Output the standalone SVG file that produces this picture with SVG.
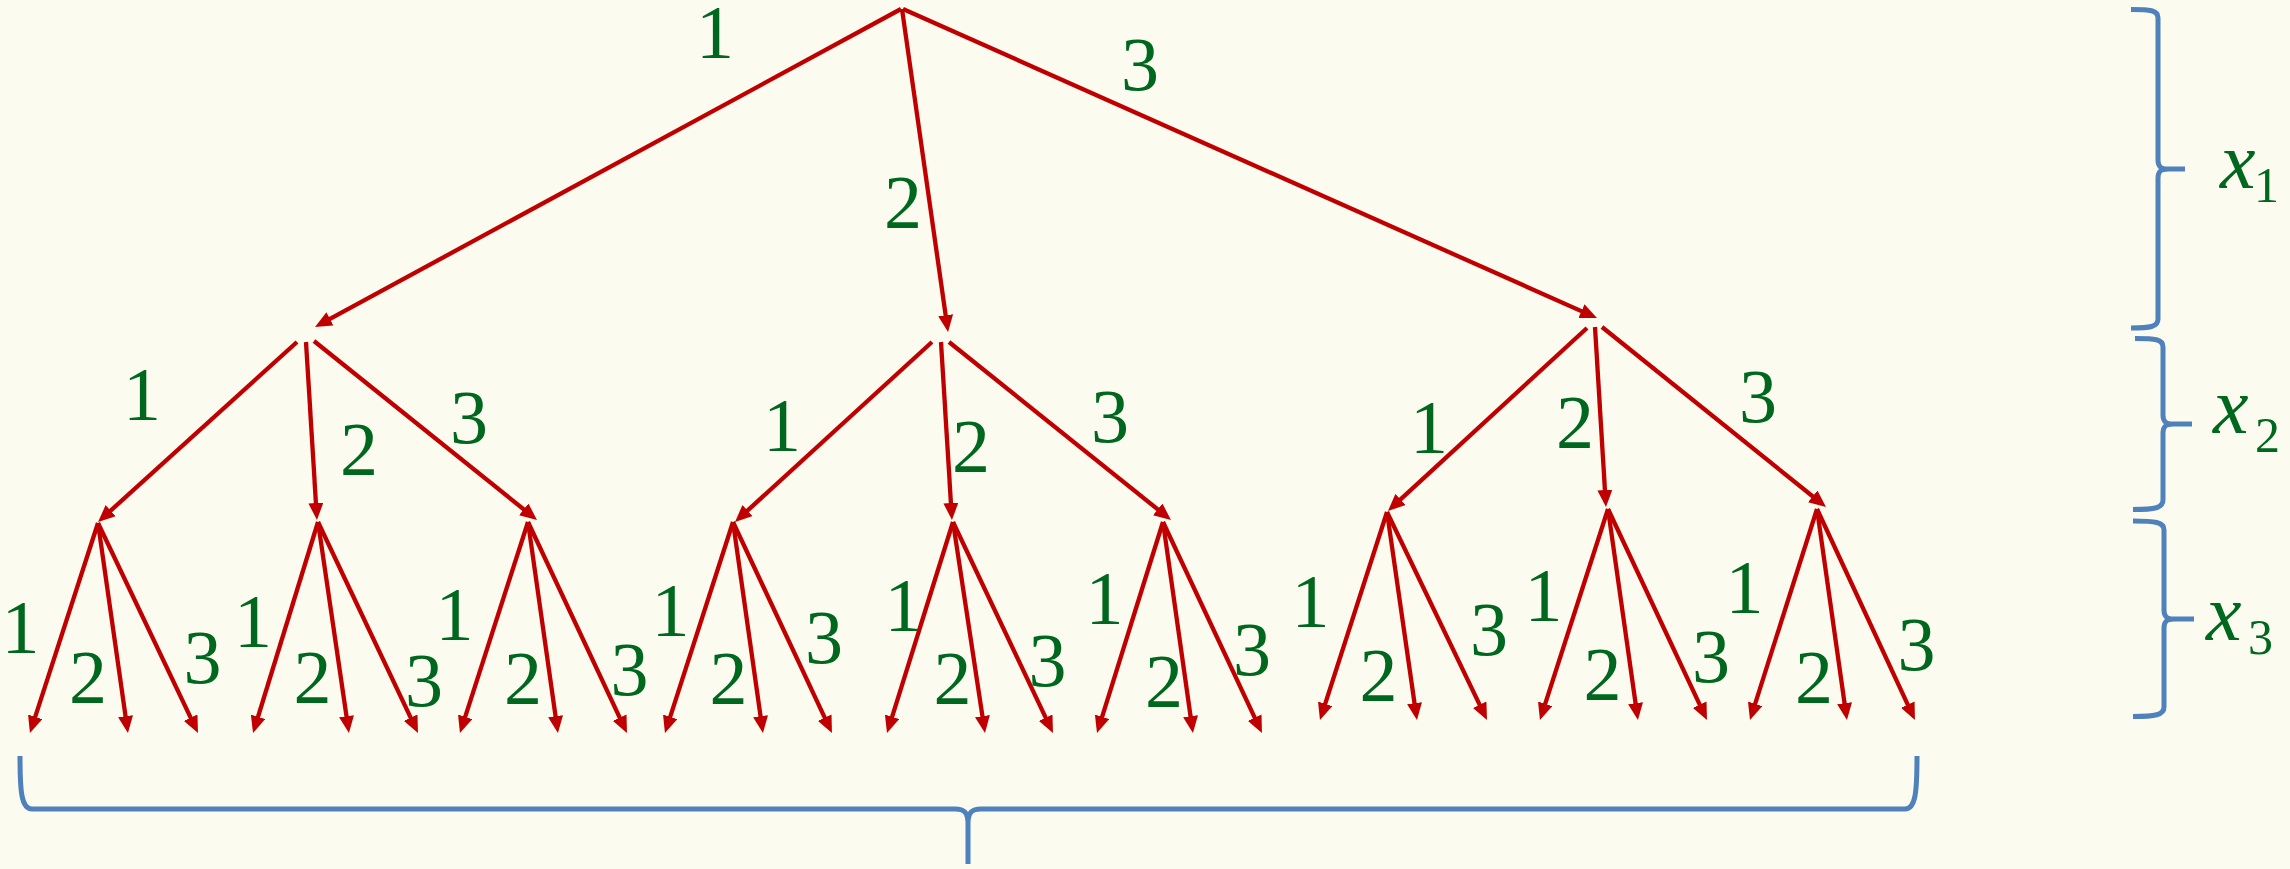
<svg xmlns="http://www.w3.org/2000/svg" width="2290" height="869" viewBox="0 0 2290 869">
<style>
.e{stroke:#C00000;stroke-width:4.3;fill:none;marker-end:url(#ah)}
.t{font-family:"Liberation Serif","DejaVu Serif",serif;font-size:76px;fill:#00681E;text-anchor:middle}
.b{stroke:#4F81BD;stroke-width:5;fill:none;stroke-linecap:butt}
.m{font-family:"Liberation Serif","DejaVu Serif",serif;font-style:italic;font-size:80px;fill:#00681E}
.s{font-family:"Liberation Serif","DejaVu Serif",serif;font-size:50px;fill:#00681E}
</style>
<defs>
<marker id="ah" markerUnits="userSpaceOnUse" markerWidth="17" markerHeight="15" refX="11" refY="7.5" orient="auto" viewBox="0 0 17 15">
<path d="M0,0 L17,7.5 L0,15 Z" fill="#C00000"/>
</marker>
</defs>
<rect width="2290" height="869" fill="#FBFBEF"/>
<g id="connectors">
<line class="e" x1="901" y1="9" x2="320.3" y2="324.1"/>
<line class="e" x1="902" y1="9" x2="947.2" y2="326.1"/>
<line class="e" x1="903" y1="9" x2="1591.5" y2="315.6"/>
<line class="e" x1="297" y1="342" x2="102.5" y2="518"/>
<line class="e" x1="306" y1="342" x2="316.6" y2="514"/>
<line class="e" x1="314" y1="341" x2="532.3" y2="516.2"/>
<line class="e" x1="932" y1="342" x2="739.4" y2="518"/>
<line class="e" x1="941" y1="342" x2="951.6" y2="514"/>
<line class="e" x1="949" y1="342" x2="1166.3" y2="516.2"/>
<line class="e" x1="1587" y1="328" x2="1392.4" y2="506.9"/>
<line class="e" x1="1595" y1="327" x2="1605.6" y2="501"/>
<line class="e" x1="1602" y1="327" x2="1821.3" y2="503.2"/>
<line class="e" x1="98" y1="523" x2="31.8" y2="727.3"/>
<line class="e" x1="98" y1="523" x2="127.1" y2="727.1"/>
<line class="e" x1="98" y1="523" x2="195.4" y2="727.6"/>
<line class="e" x1="318" y1="522" x2="254.8" y2="727.3"/>
<line class="e" x1="318" y1="522" x2="348.1" y2="727.1"/>
<line class="e" x1="318" y1="522" x2="415.4" y2="727.6"/>
<line class="e" x1="528" y1="522" x2="461.8" y2="727.3"/>
<line class="e" x1="528" y1="522" x2="557.1" y2="727.1"/>
<line class="e" x1="528" y1="522" x2="624.4" y2="727.6"/>
<line class="e" x1="733" y1="522" x2="666.8" y2="727.3"/>
<line class="e" x1="733" y1="522" x2="762.1" y2="727.1"/>
<line class="e" x1="733" y1="522" x2="829.4" y2="727.6"/>
<line class="e" x1="953" y1="522" x2="888.8" y2="727.3"/>
<line class="e" x1="953" y1="522" x2="984.1" y2="727.1"/>
<line class="e" x1="953" y1="522" x2="1050.4" y2="727.6"/>
<line class="e" x1="1163" y1="522" x2="1098.8" y2="727.3"/>
<line class="e" x1="1163" y1="522" x2="1192.1" y2="727.1"/>
<line class="e" x1="1163" y1="522" x2="1259.4" y2="727.6"/>
<line class="e" x1="1387" y1="512" x2="1321.8" y2="714.3"/>
<line class="e" x1="1387" y1="512" x2="1416.1" y2="714.1"/>
<line class="e" x1="1387" y1="512" x2="1484.4" y2="714.6"/>
<line class="e" x1="1608" y1="509" x2="1541.8" y2="714.3"/>
<line class="e" x1="1608" y1="509" x2="1637.1" y2="714.1"/>
<line class="e" x1="1608" y1="509" x2="1704.4" y2="714.6"/>
<line class="e" x1="1817" y1="509" x2="1751.8" y2="714.3"/>
<line class="e" x1="1817" y1="509" x2="1846.1" y2="714.1"/>
<line class="e" x1="1817" y1="509" x2="1912.4" y2="714.6"/>
</g>
<g id="edge-labels">
<text class="t" x="715" y="58">1</text>
<text class="t" x="903" y="228">2</text>
<text class="t" x="1140" y="90">3</text>
<text class="t" x="142" y="420">1</text>
<text class="t" x="359" y="475">2</text>
<text class="t" x="469" y="443">3</text>
<text class="t" x="782" y="451">1</text>
<text class="t" x="971" y="472">2</text>
<text class="t" x="1110" y="442">3</text>
<text class="t" x="1429" y="453">1</text>
<text class="t" x="1575" y="448">2</text>
<text class="t" x="1758" y="422">3</text>
<text class="t" x="20.5" y="653">1</text>
<text class="t" x="88" y="703">2</text>
<text class="t" x="202.5" y="683">3</text>
<text class="t" x="253" y="647">1</text>
<text class="t" x="312.5" y="703">2</text>
<text class="t" x="424" y="706">3</text>
<text class="t" x="454.5" y="640">1</text>
<text class="t" x="523" y="704">2</text>
<text class="t" x="629.5" y="695">3</text>
<text class="t" x="670.5" y="636">1</text>
<text class="t" x="728.5" y="704">2</text>
<text class="t" x="824" y="663">3</text>
<text class="t" x="903.5" y="631">1</text>
<text class="t" x="952.5" y="704">2</text>
<text class="t" x="1047.5" y="686">3</text>
<text class="t" x="1104.5" y="624">1</text>
<text class="t" x="1164" y="707">2</text>
<text class="t" x="1252" y="675">3</text>
<text class="t" x="1310.5" y="627">1</text>
<text class="t" x="1378.5" y="701">2</text>
<text class="t" x="1489" y="655">3</text>
<text class="t" x="1543.5" y="621">1</text>
<text class="t" x="1602.5" y="700">2</text>
<text class="t" x="1711" y="682">3</text>
<text class="t" x="1744.5" y="613">1</text>
<text class="t" x="1814" y="703">2</text>
<text class="t" x="1916.5" y="670">3</text>
</g>
<g id="brace-x1">
<path class="b" d="M2131,9.5 C2150,9.5 2158,10 2158,18 L2158,160 C2158,166 2160,169 2168,169 L2185,169 M2168,169 C2160,169 2158,172 2158,178 L2158,319 C2158,327 2150,328 2131,328"/>
<text class="m" x="2220" y="188">x</text><text class="s" x="2254" y="202">1</text>
</g>
<g id="brace-x2">
<path class="b" d="M2135,338.5 C2155,338.5 2163,339 2163,347 L2163,415 C2163,421 2165,424 2173,424 L2192,424 M2173,424 C2165,424 2163,427 2163,433 L2163,500 C2163,508 2155,509.5 2133,509.5"/>
<text class="m" x="2213" y="433">x</text><text class="s" x="2255" y="452">2</text>
</g>
<g id="brace-x3">
<path class="b" d="M2133,521 C2155,521 2164,522 2164,530 L2164,610 C2164,616 2166,619 2174,619 L2194,619 M2174,619 C2166,619 2164,622 2164,628 L2164,707 C2164,715 2155,716.5 2133,716.5"/>
<text class="m" x="2206" y="640">x</text><text class="s" x="2248" y="654">3</text>
</g>
<g id="brace-bottom">
<path class="b" d="M20,756 C20,790 21,809 32,809 L955,809 C964,809 968,812 968,824 L968,864 M968,824 C968,812 972,809 981,809 L1905,809 C1916,809 1917,790 1917,756"/>
</g>
</svg>
